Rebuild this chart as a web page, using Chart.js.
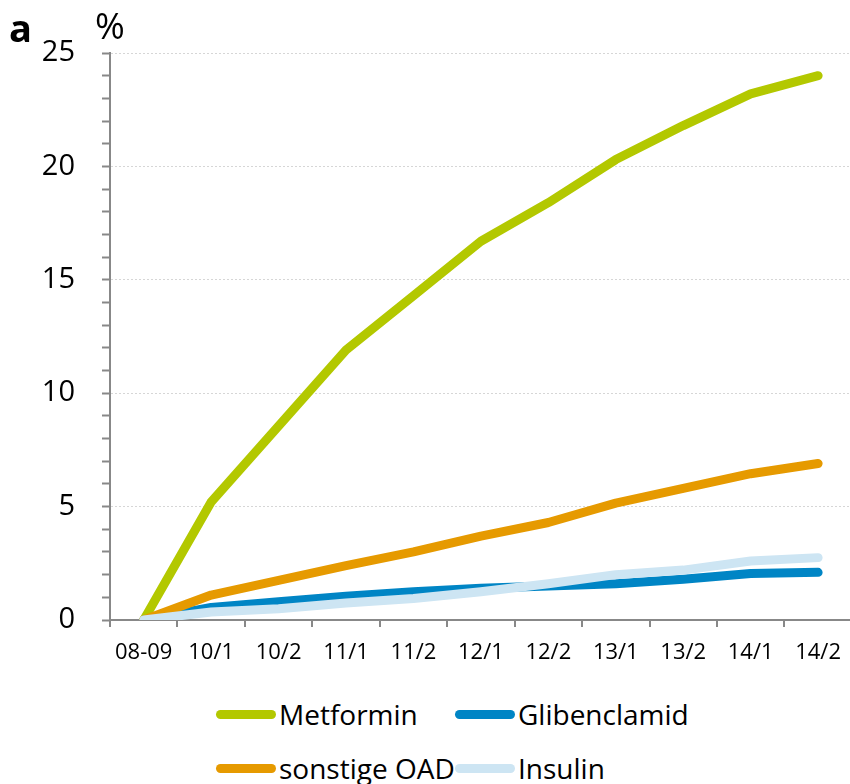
<!DOCTYPE html>
<html>
<head>
<meta charset="utf-8">
<script src="https://cdn.jsdelivr.net/npm/chart.js@4.4.0/dist/chart.umd.min.js"></script>
<style>
  html, body { margin: 0; padding: 0; background: #fff; overflow: hidden; }
  #wrap { position: relative; width: 850px; height: 784px; overflow: hidden; font-family: "Open Sans", sans-serif; }
  #chart { position: absolute; left: 0; top: 0; }
  .lbl { position: absolute; color: #000; line-height: 1; }
  #legend .item { position: absolute; display: flex; align-items: center; font-size: 28px; color: #000; }
  #legend .sw { width: 60px; height: 9px; border-radius: 5px; margin-right: 3px; }
</style>
</head>
<body>
<div id="wrap">
  <canvas id="chart" width="854" height="690"></canvas>
  <div class="lbl" style="left:9px; top:8px; font-size:38px; font-weight:bold;">a</div>
  <div class="lbl" style="left:95px; top:8px; font-size:36px;">%</div>
  <div id="legend"></div>
</div>
<script>
// Datos
const etiquetas = ['08-09', '10/1', '10/2', '11/1', '11/2', '12/1', '12/2', '13/1', '13/2', '14/1', '14/2'];
const metformin = [0, 5.2, 8.55, 11.9, 14.3, 16.7, 18.4, 20.3, 21.8, 23.2, 24.0];
const glibenclamid = [0, 0.55, 0.8, 1.05, 1.25, 1.4, 1.5, 1.6, 1.8, 2.05, 2.1];
const sonstigeOAD = [0, 1.1, 1.75, 2.4, 3.0, 3.7, 4.3, 5.15, 5.8, 6.45, 6.9];
const insulin = [0, 0.35, 0.5, 0.75, 0.95, 1.25, 1.6, 2.0, 2.2, 2.6, 2.75];

const nombres = ['Metformin', 'Glibenclamid', 'sonstige OAD', 'Insulin'];
const colores = ['#b3c800', '#0085c5', '#e69a00', '#cde5f3'];
const series = [metformin, glibenclamid, sonstigeOAD, insulin];

const datasets = series.map(function(valores, i) {
    return {
        label: nombres[i],
        data: valores,
        borderColor: colores[i],
        backgroundColor: colores[i],
        borderWidth: 9,
        borderCapStyle: 'round',
        borderJoinStyle: 'round',
        pointRadius: 0,
        tension: 0,
        order: series.length - i   // el último queda encima, como en Excel
    };
});

new Chart(document.getElementById('chart'), {
    type: 'line',
    data: { labels: etiquetas, datasets: datasets },
    options: {
        responsive: false,
        animation: false,
        layout: { padding: { top: 53, right: 0, bottom: 0, left: 0 } },
        plugins: { legend: { display: false }, tooltip: { enabled: false } },
        scales: {
            x: {
                offset: true,
                grid: { offset: true, drawOnChartArea: false, color: '#888', tickColor: '#888', tickLength: 7, lineWidth: 2 },
                border: { color: '#888', width: 2 },
                ticks: { color: '#000', font: { family: 'Open Sans', size: 22 }, padding: 13, maxRotation: 0, autoSkip: false },
                afterFit: function(s) { s.height = 70; }
            },
            y: {
                min: 0,
                max: 25,
                grid: {
                    color: function(ctx) { return ctx.tick && ctx.tick.value % 5 === 0 && ctx.tick.value > 0 ? '#d6d6d6' : 'rgba(0,0,0,0)'; },
                    tickColor: '#888',
                    tickLength: 8,
                    lineWidth: 1,
                    tickWidth: 2,
                    tickBorderDash: []
                },
                border: { color: '#888', width: 2, dash: [2, 2] },
                ticks: {
                    stepSize: 1,
                    autoSkip: false,
                    color: '#000',
                    font: { family: 'Open Sans', size: 29 },
                    padding: 27,
                    callback: function(v) { return v % 5 === 0 ? v : ''; }
                },
                afterFit: function(s) { s.width = 110; }
            }
        }
    }
});

// Leyenda en dos columnas
const legend = document.getElementById('legend');
const posX = [216, 455];
const posY = [714, 768];
nombres.forEach(function(nombre, i) {
    const item = document.createElement('div');
    item.className = 'item';
    item.style.left = posX[i % 2] + 'px';
    item.style.top = (posY[Math.floor(i / 2)] - 18) + 'px';
    item.style.height = '36px';
    item.innerHTML = '<div class="sw" style="background:' + colores[i] + '"></div><span>' + nombre + '</span>';
    legend.appendChild(item);
});
</script>
</body>
</html>
